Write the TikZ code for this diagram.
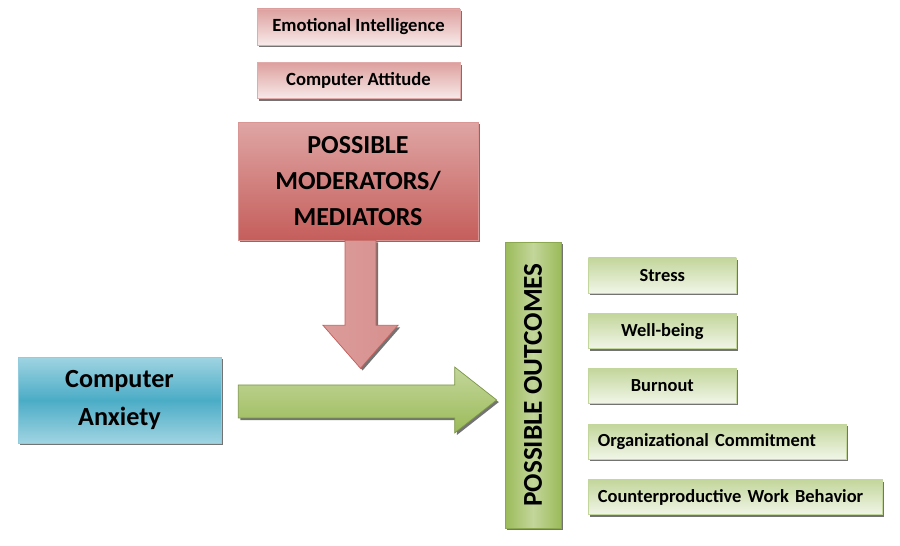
\documentclass[tikz,border=0pt]{standalone}
\usepackage{fontspec}
\setmainfont{Carlito}
\usepackage{xcolor}
\definecolor{redlight}{RGB}{242,220,219}
\definecolor{redmid}{RGB}{230,185,184}
\definecolor{reddark}{RGB}{217,150,148}
\definecolor{redcore}{RGB}{192,80,77}
\definecolor{bluelight}{RGB}{160,212,226}
\definecolor{bluemid}{RGB}{75,172,198}
\definecolor{greenlight}{RGB}{215,228,189}
\definecolor{greenmid}{RGB}{195,214,155}
\definecolor{greendark}{RGB}{155,187,89}
\usepackage{tikz}
\usetikzlibrary{positioning,shadows,calc}

\begin{document}
\begin{tikzpicture}[
  x=0.02cm, y=-0.02cm,
  font=\bfseries,
  boxshadow/.style={drop shadow={shadow xshift=1.2pt, shadow yshift=-1.2pt,
                    fill=black, opacity=0.55}},
  factor/.style={draw=reddark!80!white, line width=0.4pt, boxshadow,
                 top color=reddark!90!white, bottom color=redlight!60!white,
                 minimum width=4.06cm, minimum height=0.72cm, inner sep=0pt,
                 font=\fontsize{10.6}{12}\selectfont\bfseries},
  modbox/.style={draw=reddark, line width=0.4pt, boxshadow,
                 top color=reddark!85!white, bottom color=redcore!80!reddark,
                 minimum width=4.8cm, minimum height=2.36cm, align=center,
                 font=\fontsize{14.8}{20.5}\selectfont\bfseries},
  sourcebox/.style={draw=bluemid!60!white, line width=0.4pt, boxshadow,
                 top color=bluelight, bottom color=bluelight, middle color=bluemid,
                 minimum width=4.06cm, minimum height=1.72cm, align=center,
                 font=\fontsize{14.9}{21.5}\selectfont\bfseries},
  outbox/.style={draw=greendark!90!black, line width=0.4pt, boxshadow,
                 left color=greendark, right color=greendark, middle color=greenmid,
                 minimum width=5.72cm, minimum height=1.12cm,
                 font=\fontsize{15.5}{17}\selectfont\bfseries},
  effect/.style={draw=greenmid, line width=0.4pt, boxshadow,
                 top color=greenmid, bottom color=greenlight!35!white,
                 minimum height=0.7cm, inner ysep=0pt, inner xsep=0.19cm,
                 font=\fontsize{10.5}{12}\selectfont\bfseries},
  bigarrow/.style={boxshadow, line width=0.4pt}
]
\useasboundingbox (0,0) rectangle (900,546);

%% Moderators / mediators
\node (emo) [factor] at (358.5,27) {Emotional Intelligence};
\node (att) [factor, below=0.34cm of emo] {Computer Attitude};
\node (mod) [modbox] at (358,181) {POSSIBLE\\MODERATORS/\\MEDIATORS};

%% Predictor
\node (anx) [sourcebox] at (119.5,400) {Computer\\Anxiety};

%% Outcomes
\node (out) [outbox, rotate=90] at (533,385) {POSSIBLE OUTCOMES};
\node (stress) [effect, minimum width=2.96cm, anchor=west] at (588,275.5) {Stress};
\node (well) [effect, minimum width=2.96cm, below right=0.4cm and 0cm of stress.south west] {Well-being};
\node (burn) [effect, minimum width=2.96cm, below right=0.38cm and 0cm of well.south west] {Burnout};
\node (org) [effect, minimum width=5.16cm, below right=0.4cm and 0cm of burn.south west,
             text width=4.78cm, align=left] {Organizational Commitment};
\node (cwb) [effect, minimum width=5.88cm, below right=0.4cm and 0cm of org.south west,
             text width=5.5cm, align=left] {\mbox{Counterproductive Work Behavior}};

%% Arrow: moderators -> main path
\coordinate (rtop) at ([xshift=0.05cm]mod.south);
\draw [bigarrow, draw=redcore!80!reddark, left color=reddark!95!white, right color=reddark!92!redcore]
  ($(rtop)+(-15.5,0)$) -- ++(0,85) -- ++(-22,0) -- ($(rtop)+(0,128)$)
  -- ($(rtop)+(37.5,85)$) -- ++(-22,0) -- ($(rtop)+(15.5,0)$) -- cycle;

%% Arrow: anxiety -> outcomes
\coordinate (gtail) at ([xshift=0.34cm]anx.east);
\coordinate (gtip) at ([xshift=-0.16cm]out.north |- anx.east);
\draw [bigarrow, draw=greendark!80!black, top color=greenmid, bottom color=greendark]
  ($(gtail)+(0,-15)$) -- ($(gtip)+(-42,-15)$) -- ($(gtip)+(-42,-33)$) -- (gtip)
  -- ($(gtip)+(-42,33)$) -- ($(gtip)+(-42,18)$) -- ($(gtail)+(0,18)$) -- cycle;

\end{tikzpicture}
\end{document}
